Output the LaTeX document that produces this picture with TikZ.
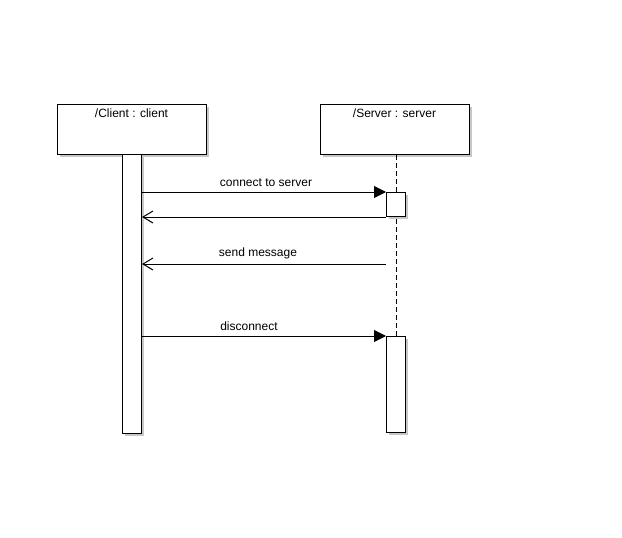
\documentclass[tikz,border=0pt]{standalone}
\usepackage{fontspec}
\setmainfont{Liberation Sans}
\usetikzlibrary{arrows.meta,shadows}
\begin{document}
\begin{tikzpicture}[x=1pt,y=-1pt,line width=1pt,
  shd/.style={drop shadow={shadow xshift=2pt,shadow yshift=-2pt,fill=black!22,opacity=1}},
  obj/.style={draw,fill=white,shd,minimum width=149pt,minimum height=50pt,inner sep=0pt,anchor=north west},
  act/.style={draw,fill=white,shd,minimum width=19pt,inner sep=0pt,anchor=north west},
  lbl/.style={font=\fontsize{12}{14}\selectfont,inner sep=0pt},
  life/.style={dash pattern=on 5pt off 3pt},
  sync/.style={-{Triangle[length=12pt,width=12pt]}},
  reply/.style={-{Straight Barb[length=10pt,width=12pt]}}]
\useasboundingbox (0,0) rectangle (622,538);
% objects
\node[obj] (client) at (57,104) {};
\node[lbl] (clientT) at (131.5,113) {/Client : client};
\node[obj] (server) at (320,104) {};
\node[lbl] (serverT) at (394.5,113) {/Server : server};
% lifeline
\coordinate (lifeEnd) at (396,336);
\draw[life] (server.south -| lifeEnd) -- (lifeEnd);
% activations
\node[act,minimum height=279pt] (actC) at (122,154) {};
\node[act,minimum height=24pt] (actS1) at (386,192) {};
\node[act,minimum height=96pt] (actS2) at (386,336) {};
% messages
\coordinate (m3s) at (386,264);
\draw[sync] (actC.east |- actS1.north west) -- (actS1.north west)
  node[lbl,midway,above=5pt,xshift=2pt] (m1) {connect to server};
\draw[reply] (actS1.south west) -- (actC.east |- actS1.south west);
\draw[reply] (m3s) -- (actC.east |- m3s)
  node[lbl,midway,above=5pt,xshift=-6pt] (m3) {send message};
\draw[sync] (actC.east |- actS2.north west) -- (actS2.north west)
  node[lbl,midway,above=5pt,xshift=-15pt] (m4) {disconnect};
\end{tikzpicture}
\end{document}
